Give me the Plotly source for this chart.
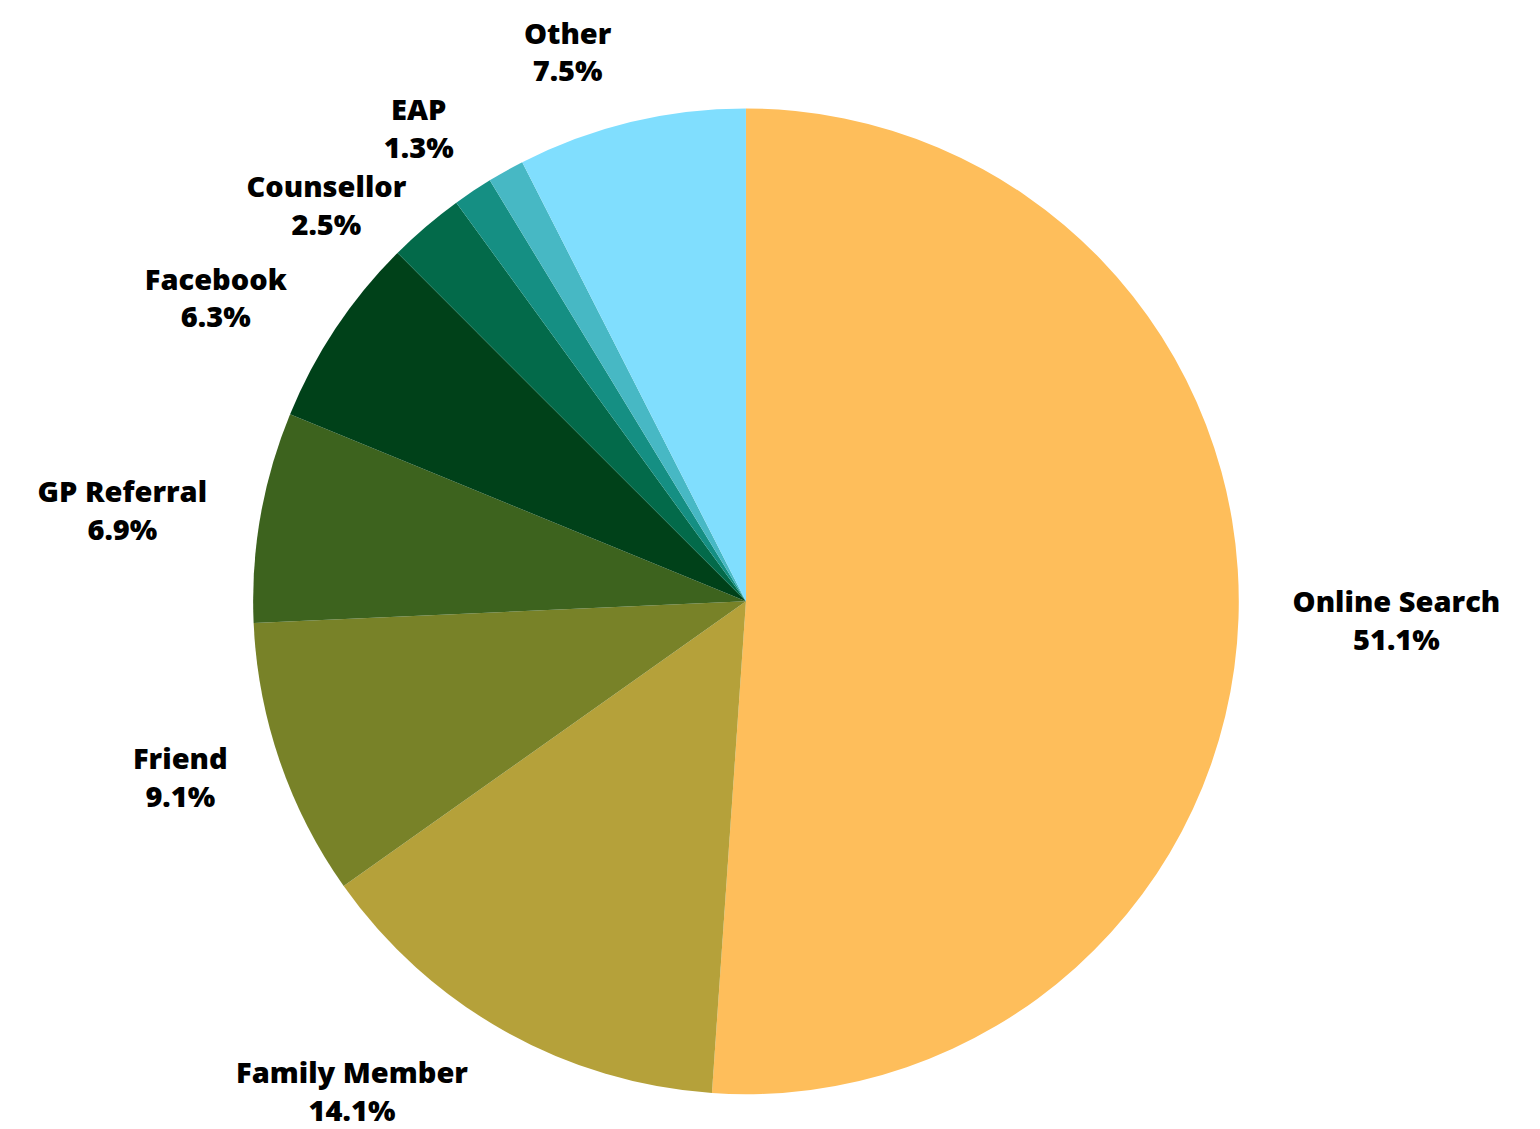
import plotly.graph_objects as go

# referral sources, clockwise from 12 o'clock
sources = ['Online Search', 'Family Member', 'Friend', 'GP Referral', 'Facebook',
           'Counsellor', 'EAP', 'Unlabelled', 'Other']
shares = [51.1, 14.1, 9.1, 6.9, 6.3, 2.5, 1.3, 1.2, 7.5]
show_label = [True, True, True, True, True, True, True, False, True]

slice_colors = ['#FEBE5B', '#B5A13A', '#788228', '#3D631E', '#004119',
                '#036A4A', '#158F83', '#47B8C4', '#80DEFE']

label_text = [f"{s}<br>{v:.1f}%" if show else ""
              for s, v, show in zip(sources, shares, show_label)]

# the small slices at the top keep their labels close to the pie,
# the big ones get theirs from a wider invisible ring (like the original)
near_labels = [t if s in ('Counsellor', 'EAP', 'Other') else "" for s, t in zip(sources, label_text)]
far_labels = [t if s not in ('Counsellor', 'EAP', 'Other') else "" for s, t in zip(sources, label_text)]

common = dict(labels=sources, values=shares, sort=False, direction='clockwise',
              rotation=0, showlegend=False, textinfo='text', textposition='outside',
              textfont=dict(family='Open Sans', size=29, color='black', weight=800))

pie = go.Pie(
    **common,
    text=near_labels,
    marker=dict(colors=slice_colors, line=dict(width=0)),
    hoverinfo='label+value',
    domain=dict(x=[0.1578, 0.8006], y=[0.0381, 0.9150])
)

label_ring = go.Pie(
    **common,
    text=far_labels,
    marker=dict(colors=['rgba(0,0,0,0)'] * len(sources), line=dict(width=0)),
    hoverinfo='skip',
    domain=dict(x=[0.1351, 0.8234], y=[0.0071, 0.9460])
)

fig = go.Figure([pie, label_ring])

fig.update_layout(
    width=1540,
    height=1129,
    margin=dict(l=0, r=0, t=0, b=0),
    paper_bgcolor='white',
    plot_bgcolor='white'
)

# the reference has no connector lines next to moved labels
hide_lines = "document.querySelectorAll('.textline').forEach(function(el){el.style.display='none';});"

fig.write_html("out.html", post_script=hide_lines)
